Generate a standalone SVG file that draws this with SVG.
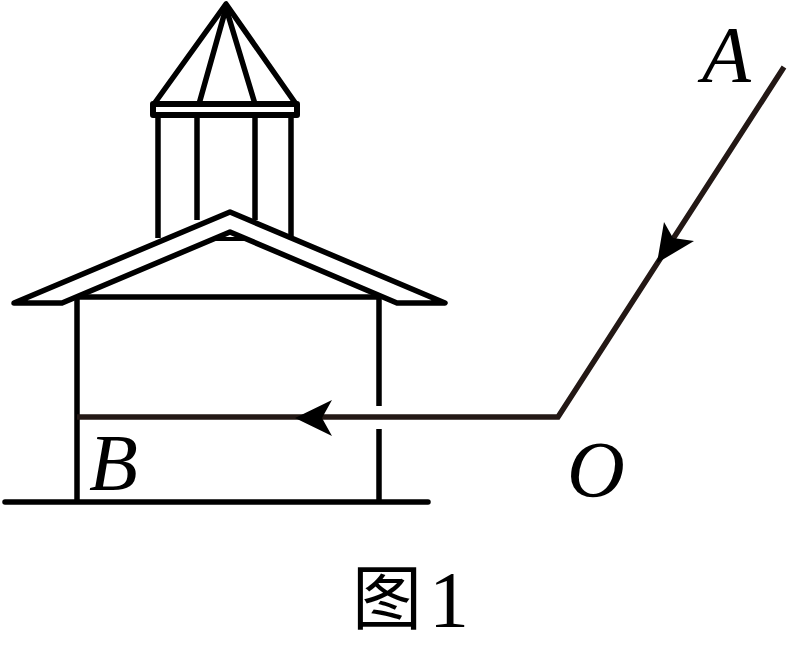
<svg xmlns="http://www.w3.org/2000/svg" width="789" height="645" viewBox="0 0 789 645">
<style>
.l{fill:none;stroke:#000;stroke-width:5.5;stroke-linecap:round;stroke-linejoin:round}
.b{stroke-linecap:butt}
.ray{fill:none;stroke:#231815;stroke-width:5.5;stroke-linejoin:miter}
.h{fill:#000;stroke:none}
.t{font-family:"Liberation Serif",serif;font-style:italic;font-size:80px;fill:#000}
.c{font-family:"Noto Sans CJK SC",sans-serif;font-size:70px;fill:#000}
.n{font-family:"Liberation Serif",serif;font-size:80px;fill:#000}
</style>
<rect width="789" height="645" fill="#fff"/>
<g id="tower">
<path class="l" d="M226 4L154 104H296L226 4Z"/>
<path class="l b" d="M226 8L199 104M226 8L255 104"/>
<path class="l" style="stroke-width:6" d="M153 104H297V115H153Z"/>
<path class="l b" d="M158 115V238M197 115V220M255 115V220M291 115V236"/>
</g>
<g id="house">
<path d="M13 303L230 212L447 303H397L230 231L62 303Z" fill="#fff" stroke="none"/>
<path class="l" d="M14 303L230 212L445 303H397L230 232L62 303Z"/>
<path class="l b" style="stroke-width:4" d="M213 239H248"/>
<path class="l b" d="M77 297H379M77 297V502M379 297V406M379 429V502"/>
<path class="l" d="M5 502H428"/>
</g>
<g id="connectors">
<path class="ray" d="M784 67L558 417H77"/>
<polygon class="h" points="295,418 332,400 322,418 332,436"/>
<polygon class="h" points="657,263 664,222 673,238 694,241"/>
</g>
<g id="label-A"><text class="t" x="702" y="82">A</text></g>
<g id="label-B"><text class="t" x="89" y="490">B</text></g>
<g id="label-O"><text class="t" x="567" y="497">O</text></g>
<g id="caption"><text class="c" x="352" y="624">图</text><text class="n" x="429" y="627">1</text></g>
</svg>
